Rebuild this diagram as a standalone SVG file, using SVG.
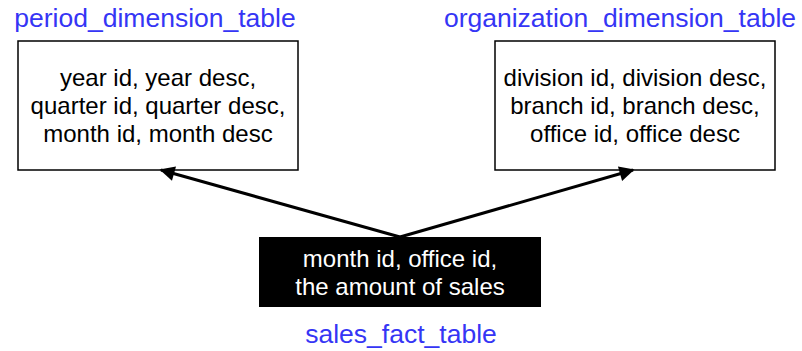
<svg xmlns="http://www.w3.org/2000/svg" width="802" height="351" viewBox="0 0 802 351">
<style>
.title{font-family:"Liberation Sans",Arial,sans-serif;font-size:26.5px;fill:#3535f5;text-anchor:middle}
.body{font-family:"Liberation Sans",Arial,sans-serif;font-size:24px;fill:#000;text-anchor:middle}
.inv{font-family:"Liberation Sans",Arial,sans-serif;font-size:24px;fill:#fff;text-anchor:middle}
.box{fill:#fff;stroke:#000;stroke-width:1.5}
.edge{stroke:#000;stroke-width:3;fill:none}
</style>
<defs>
<marker id="ah" viewBox="0 0 10 10" refX="9" refY="5" markerWidth="5.5" markerHeight="5" orient="auto" markerUnits="strokeWidth">
<path d="M0,0 L10,5 L0,10 z" fill="#000"/>
</marker>
</defs>
<g id="period">
<text class="title" x="155" y="27">period_dimension_table</text>
<rect class="box" x="18" y="41" width="280" height="129"/>
<text class="body" x="158" y="86">year id, year desc,</text>
<text class="body" x="158" y="114">quarter id, quarter desc,</text>
<text class="body" x="158" y="142">month id, month desc</text>
</g>
<g id="organization">
<text class="title" x="620" y="27">organization_dimension_table</text>
<rect class="box" x="495" y="41" width="280" height="129"/>
<text class="body" x="635" y="86">division id, division desc,</text>
<text class="body" x="635" y="114">branch id, branch desc,</text>
<text class="body" x="635" y="142">office id, office desc</text>
</g>
<g id="sales">
<rect x="259" y="237" width="282" height="70" fill="#000"/>
<text class="inv" x="400" y="267">month id, office id,</text>
<text class="inv" x="400" y="295">the amount of sales</text>
<text class="title" x="401" y="343">sales_fact_table</text>
</g>
<g id="connectors">
<line class="edge" x1="400" y1="237" x2="161" y2="170" marker-end="url(#ah)"/>
<line class="edge" x1="400" y1="237" x2="633" y2="170" marker-end="url(#ah)"/>
</g>
</svg>
